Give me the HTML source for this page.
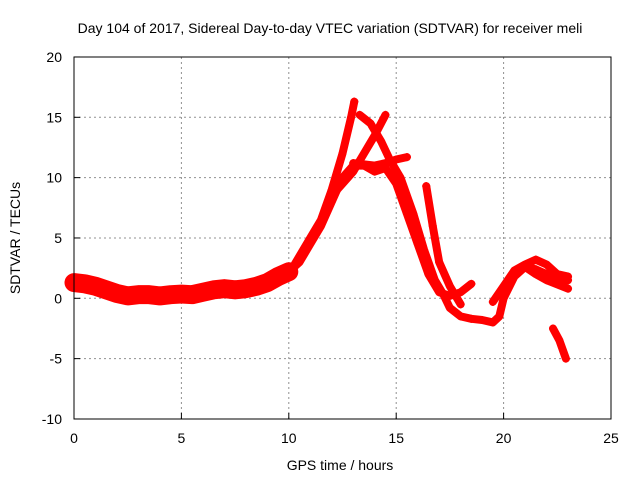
<!DOCTYPE html>
<html><head><meta charset="utf-8"><style>
body{margin:0;background:#fff}
svg text{font-family:"Liberation Sans",sans-serif;font-size:14px;fill:#000}
</style></head><body>
<svg id="chart" width="640" height="480" xmlns="http://www.w3.org/2000/svg">
<rect width="640" height="480" fill="#fff"/>
<text x="330" y="33" text-anchor="middle">Day 104 of 2017, Sidereal Day-to-day VTEC variation (SDTVAR) for receiver meli</text>
<g id="grid"></g>
<g id="ticks"></g>
<g id="series"></g>
<rect x="74" y="57" width="537" height="362" fill="none" stroke="#000" stroke-width="1"/>
<text x="340" y="470" text-anchor="middle">GPS time / hours</text>
<text transform="translate(20,238) rotate(-90)" text-anchor="middle">SDTVAR / TECUs</text>
</svg>
<script>
const xTicks=[0,5,10,15,20,25];
const yTicks=[-10,-5,0,5,10,15,20];
const trackBase=[[0,1.3],[0.5,1.2],[1,1],[1.5,0.7],[2,0.4],[2.5,0.2],[3,0.3],[3.5,0.3],[4,0.2],[4.5,0.3],[5,0.35],[5.5,0.3],[6,0.5],[6.5,0.7],[7,0.8],[7.5,0.7],[8,0.8],[8.5,1],[9,1.3],[9.5,1.8],[10,2.2]];
const trackA=[[10,2.2],[10.5,3],[11,4.5],[11.5,6],[12,8],[12.5,10],[13,11],[13.5,11],[14,10.5],[14.5,10.8],[15,9.5],[15.5,7],[16,4.5],[16.5,2],[17,0.5],[17.5,0.2],[18,0.5],[18.5,1.2]];
const trackB=[[10,2],[10.5,3.5],[11,5],[11.5,6.5],[12,9],[12.5,12],[12.9,15],[13.05,16.3]];
const trackC=[[13.3,15.2],[13.8,14.5],[14.3,13],[14.7,11.5],[15.2,10],[15.8,7],[16.3,4],[16.8,1.5],[17.2,0.3],[17.5,-0.8],[18,-1.5],[18.5,-1.7],[19,-1.8],[19.5,-2],[19.8,-1.5],[20,0],[20.5,1.8],[21,2.6],[21.5,2.4],[22,2],[22.5,1.6],[23,1.5]];
const trackD=[[12,8.5],[12.5,9.5],[13,10.5],[13.5,12],[14,13.5],[14.5,15.2]];
const trackE=[[13,11.2],[14,11],[14.5,11.2],[15,11.5],[15.5,11.7]];
const trackF=[[16.4,9.3],[16.7,6],[17,3],[17.5,1],[18,-0.5]];
const trackG=[[19.5,-0.3],[20,1],[20.5,2.3],[21,2.8],[21.5,3.2],[22,2.8],[22.5,2],[23,1.8]];
const trackH=[[20,0.5],[20.5,2],[21,2.6],[21.5,2],[22,1.5],[23,0.8]];
const trackI=[[22.3,-2.5],[22.6,-3.5],[22.9,-5]];
const tracks=[trackBase,trackA,trackB,trackC,trackD,trackE,trackF,trackG,trackH,trackI];
const X=v=>74+v*(537/25), Y=v=>298.3-v*(362/30);
const NS='http://www.w3.org/2000/svg';
function mk(t,a,p){const e=document.createElementNS(NS,t);for(const k in a)e.setAttribute(k,a[k]);p.appendChild(e);return e;}
const grid=document.getElementById('grid'),ticks=document.getElementById('ticks'),ser=document.getElementById('series');
xTicks.forEach(v=>{
 if(v>0&&v<25){const l=mk('line',{x1:X(v),x2:X(v),y1:57,y2:419,stroke:'#909090','stroke-dasharray':'2,3'},grid);
 
 }
 const t=mk('text',{x:X(v),y:443,'text-anchor':'middle'},ticks);t.textContent=v;
 
 
 mk('line',{x1:X(v),x2:X(v),y1:419,y2:413,stroke:'#000'},ticks);
});
yTicks.forEach(v=>{
 if(v>-10&&v<20){const l=mk('line',{x1:74,x2:611,y1:Y(v),y2:Y(v),stroke:'#909090','stroke-dasharray':'2,3'},grid);
 
 }
 const t=mk('text',{x:62,y:Y(v)+5,'text-anchor':'end'},ticks);t.textContent=v;
 
 
 mk('line',{x1:74,x2:80,y1:Y(v),y2:Y(v),stroke:'#000'},ticks);
});
tracks.forEach((tr,i)=>{
 const pl=mk('polyline',{points:tr.map(p=>X(p[0])+','+Y(p[1])).join(' '),fill:'none',stroke:'#ff0000','stroke-width':i===0?19:8,'stroke-linejoin':'round','stroke-linecap':'round'},ser);
 
 
 tr.forEach(p=>{
  const x=X(p[0]),y=Y(p[1]);
  const m=mk('path',{d:`M${x-4},${y}H${x+4}M${x},${y-4}V${y+4}`,stroke:'#ff0000','stroke-width':1.5},ser);
  
  
 });
});
</script>
</body></html>
